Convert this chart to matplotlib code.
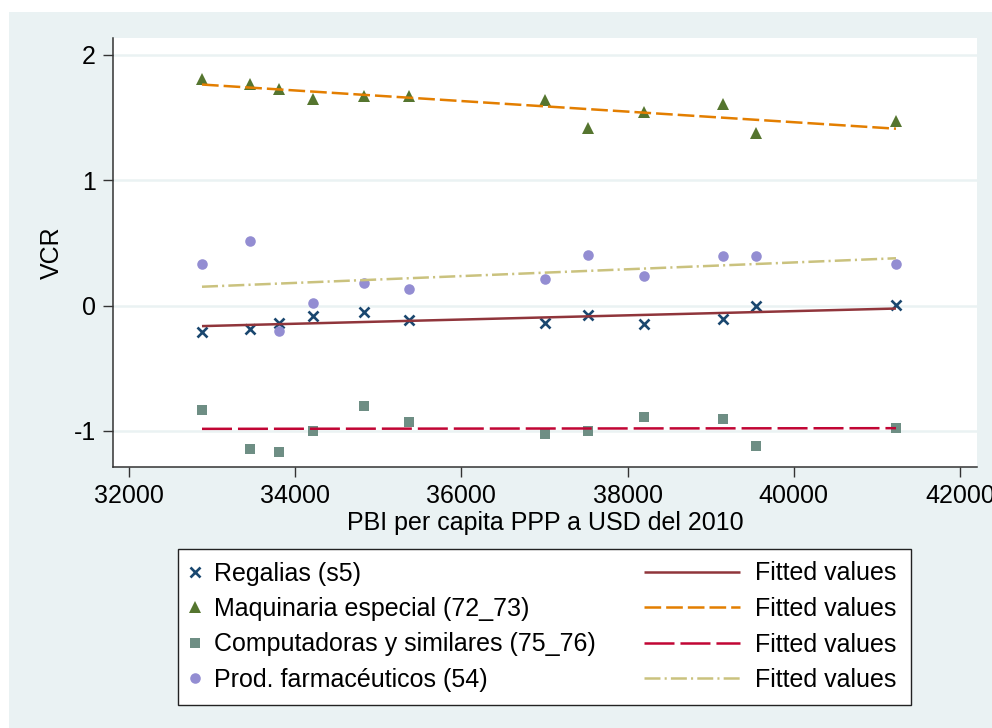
import numpy as np
import matplotlib
matplotlib.use("Agg")
import matplotlib.pyplot as plt
from matplotlib.patches import Rectangle

plt.rcParams["font.family"] = ["Liberation Sans", "DejaVu Sans"]
plt.rcParams["lines.scale_dashes"] = False

# PBI per capita (PPP, USD 2010) for each year of the series
pbi = [32878, 33452, 33801, 34218, 34824, 35369,
       37010, 37523, 38201, 39144, 39549, 41230]

# VCR by sector
regalias = [-0.213, -0.183, -0.141, -0.080, -0.053, -0.117,
            -0.136, -0.077, -0.149, -0.106, 0.000, 0.005]
maquinaria = [1.81, 1.765, 1.73, 1.65, 1.67, 1.667,
              1.64, 1.417, 1.54, 1.61, 1.377, 1.47]
computadoras = [-0.829, -1.140, -1.164, -1.002, -0.797, -0.931,
                -1.021, -1.002, -0.885, -0.901, -1.122, -0.973]
farmaceuticos = [0.335, 0.518, -0.205, 0.018, 0.178, 0.136,
                 0.213, 0.401, 0.239, 0.399, 0.399, 0.330]

labels = ["Regalias (s5)", "Maquinaria especial (72_73)",
          "Computadoras y similares (75_76)", "Prod. farmacéuticos (54)"]
fit_label = "Fitted values"

x_ticks = [32000, 34000, 36000, 38000, 40000, 42000]
y_ticks = [-1, 0, 1, 2]

BG = "#EAF2F3"
FS = 18.0

W, H = 992, 728
fig = plt.figure(figsize=(W / 100, H / 100), dpi=100, facecolor="white")
fig.patches.append(Rectangle((9 / W, 0), (W - 9) / W, (H - 12) / H,
                             transform=fig.transFigure, facecolor=BG,
                             edgecolor="none", zorder=-10))

ax = fig.add_axes([113 / W, 1 - 467 / H, (977 - 113) / W, (467 - 38) / H])
ax.set_facecolor("white")

series = [
    (regalias, dict(marker="x", color="#1a476f", ms=6.5, mew=1.9),
     dict(color="#90353b", linestyle="-")),
    (maquinaria, dict(marker="^", color="#55752f", ms=8.0, mew=0),
     dict(color="#e37e00", linestyle=(0, (12.0, 3.6)))),
    (computadoras, dict(marker="s", color="#6e8e84", ms=6.8, mew=0),
     dict(color="#c10534", linestyle=(0, (21.6, 4.3)))),
    (farmaceuticos, dict(marker="o", color="#938dd2", ms=7.6, mew=0),
     dict(color="#cac27e", linestyle=(0, (11.5, 3.0, 1.5, 3.0)))),
]

x = np.array(pbi, dtype=float)
xs = np.array([x.min(), x.max()])
marker_handles, line_handles = [], []
for (vals, mstyle, lstyle), lab in zip(series, labels):
    h, = ax.plot(x, vals, linestyle="none", label=lab, **mstyle)
    slope, intercept = np.polyfit(x, np.array(vals, dtype=float), 1)
    l, = ax.plot(xs, intercept + slope * xs, lw=1.8, label=fit_label,
                 solid_capstyle="butt", dash_capstyle="butt", **lstyle)
    marker_handles.append(h)
    line_handles.append(l)

ax.set_xlim(31807, 42205)
ax.set_ylim(-1.287, 2.133)
ax.set_xticks(x_ticks)
ax.set_yticks(y_ticks)
ax.set_xticklabels([str(t) for t in x_ticks])
ax.set_yticklabels([str(t) for t in y_ticks])
ax.grid(axis="y", color=BG, lw=1.8, zorder=0)
ax.set_axisbelow(True)

for side in ("top", "right"):
    ax.spines[side].set_visible(False)
for side in ("left", "bottom"):
    ax.spines[side].set_color("#333333")
    ax.spines[side].set_linewidth(1.1)
ax.tick_params(direction="out", length=7.2, width=1.0, color="#333333",
               labelsize=FS, pad=5)

ax.set_xlabel("PBI per capita PPP a USD del 2010", fontsize=FS, labelpad=2)
ax.set_ylabel("VCR", fontsize=FS, labelpad=7)

# Two-column key: markers on the left, fitted lines on the right
box = (178 / W, 1 - 702 / H, (911 - 178) / W, (702 - 549) / H)
LS, BP = 0.46, 0.5
leg1 = fig.legend(handles=marker_handles, labels=labels, loc="upper left",
                  bbox_to_anchor=box, bbox_transform=fig.transFigure,
                  mode="expand", borderaxespad=0, fontsize=FS,
                  handlelength=0.33, handletextpad=0.62, labelspacing=LS,
                  borderpad=BP, frameon=True, fancybox=False,
                  edgecolor="#222222", facecolor="white", framealpha=1)
leg1.get_frame().set_linewidth(1.0)

leg2 = fig.legend(handles=line_handles, labels=[fit_label] * 4,
                  loc="upper right",
                  bbox_to_anchor=((911 - 2) / W, 1 - 549 / H),
                  bbox_transform=fig.transFigure, borderaxespad=0,
                  fontsize=FS, handlelength=3.85, handletextpad=0.6,
                  labelspacing=LS, borderpad=BP, frameon=False)

fig.savefig("out.png", dpi=100, facecolor=fig.get_facecolor())
